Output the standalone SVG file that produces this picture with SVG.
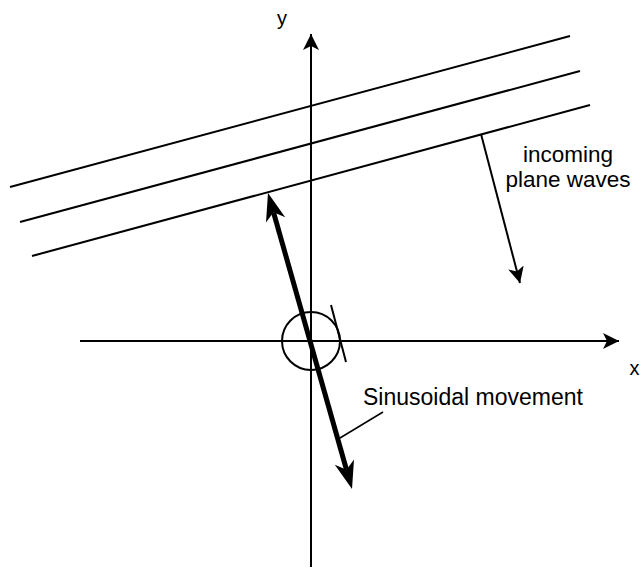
<svg xmlns="http://www.w3.org/2000/svg" width="643" height="571" viewBox="0 0 643 571">
<style>
.ln{stroke:#000;stroke-width:2;fill:none}
.thin{stroke:#000;stroke-width:1.5;fill:none}
.lbl{font-family:"Liberation Sans",Arial,sans-serif;fill:#000}
</style>
<defs>
<marker id="arr" markerUnits="userSpaceOnUse" viewBox="0 0 16 16" markerWidth="16" markerHeight="16" refX="16" refY="8" orient="auto">
<path d="M0,0 L16,8 L0,16 L4,8 Z" fill="#000"/>
</marker>
</defs>
<rect width="643" height="571" fill="#fff"/>
<g id="waves">
<line class="ln" x1="10" y1="187" x2="570" y2="36"/>
<line class="ln" x1="20" y1="222" x2="580" y2="71"/>
<line class="ln" x1="32" y1="256" x2="590" y2="105"/>
</g>
<g id="axes">
<line class="ln" x1="311" y1="567" x2="311" y2="34" marker-end="url(#arr)"/>
<line class="ln" x1="80" y1="341" x2="619" y2="341" marker-end="url(#arr)"/>
<text class="lbl" x="282" y="25" font-size="20" text-anchor="middle">y</text>
<text class="lbl" x="634.5" y="375" font-size="20" text-anchor="middle">x</text>
</g>
<g id="pivot">
<circle class="ln" cx="311" cy="341" r="29"/>
<line class="ln" x1="331" y1="305" x2="346" y2="362"/>
</g>
<g id="connectors">
<line x1="273.5" y1="212.2" x2="346.5" y2="469.8" stroke="#000" stroke-width="5"/>
<path d="M268,193 L285.2,217.2 L273.5,212.2 L266,222.6 Z" fill="#000"/>
<path d="M352,489 L334.8,464.8 L346.5,469.8 L354,459.4 Z" fill="#000"/>
<line class="ln" x1="481" y1="134" x2="520" y2="283" marker-end="url(#arr)"/>
<line class="thin" x1="383" y1="412" x2="340" y2="438"/>
</g>
<g id="labels">
<text class="lbl" x="568" y="161.5" font-size="22.5" text-anchor="middle">incoming</text>
<text class="lbl" x="568" y="186.5" font-size="22.5" text-anchor="middle">plane waves</text>
<text class="lbl" x="363" y="405" font-size="23">Sinusoidal movement</text>
</g>
</svg>
